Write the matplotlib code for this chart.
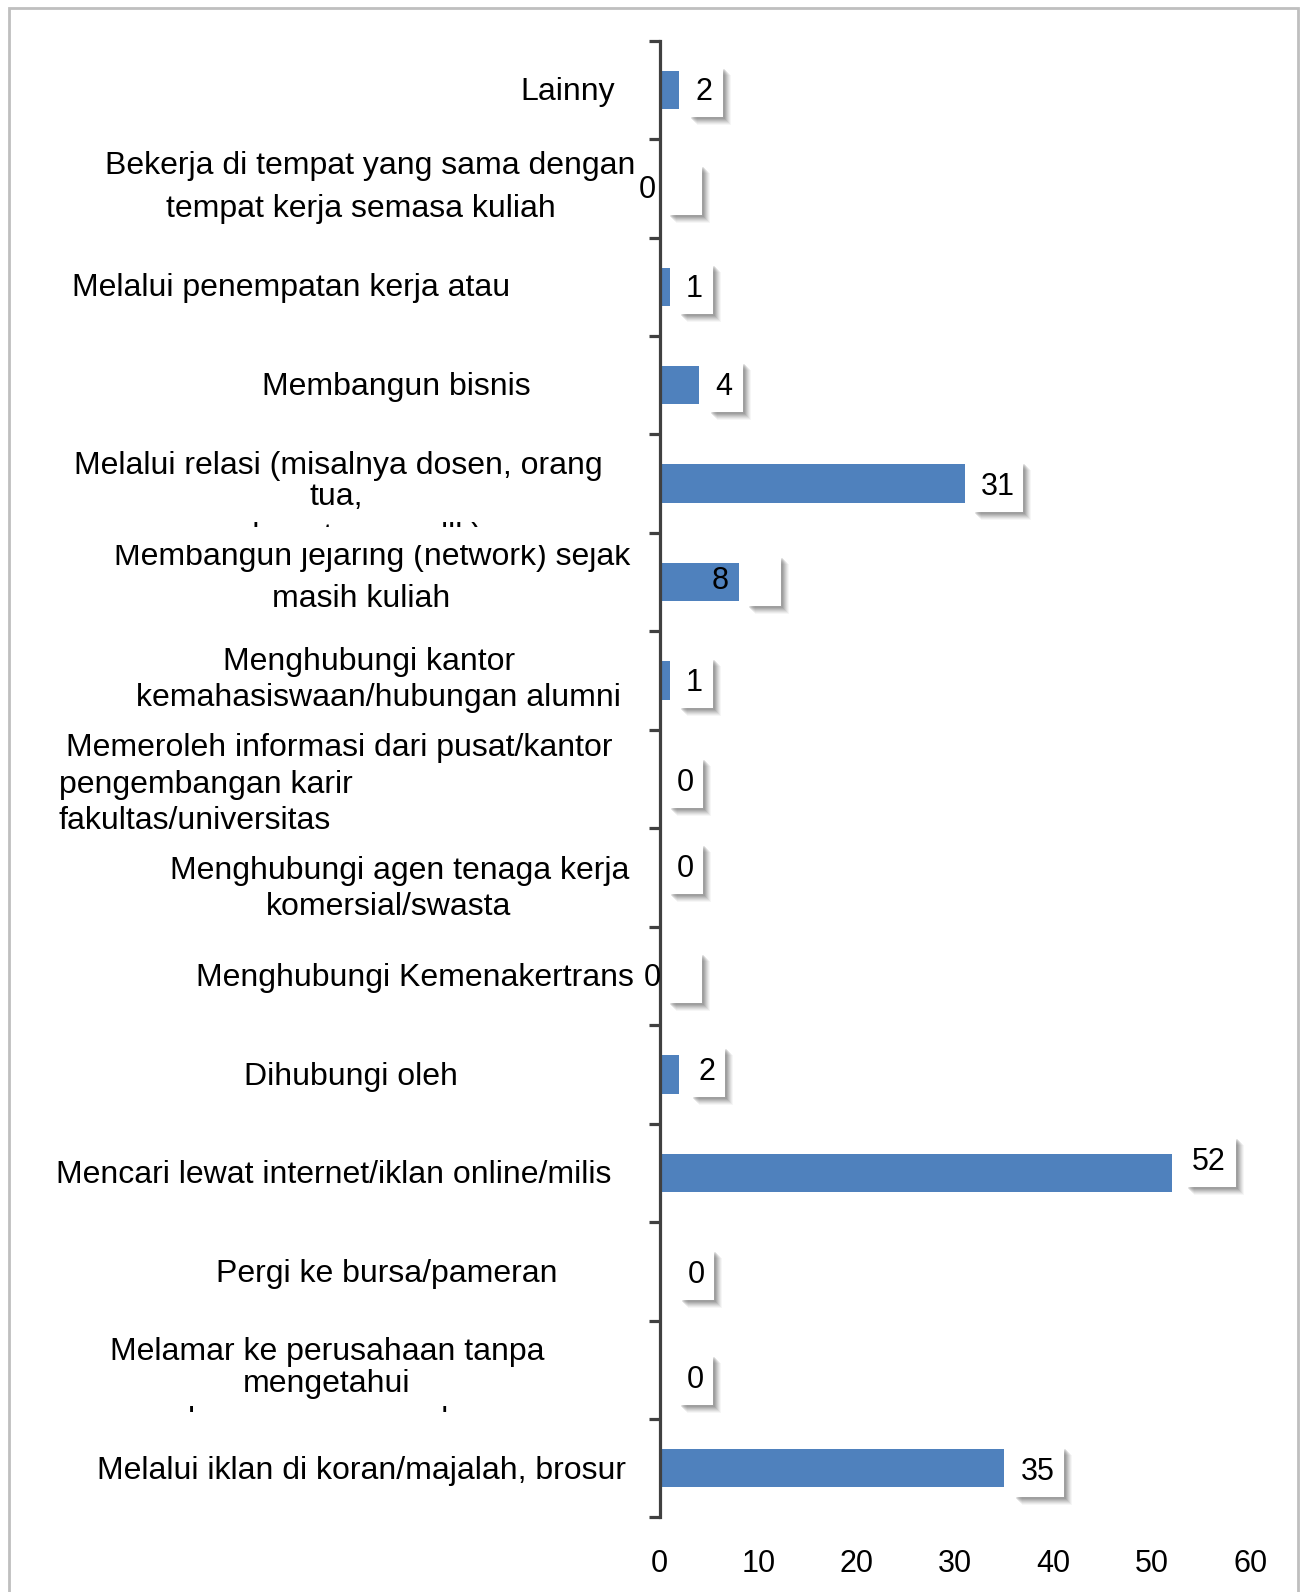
import matplotlib
matplotlib.use("Agg")
import matplotlib.pyplot as plt
from matplotlib.patches import Rectangle

# ---------------- data (top to bottom) ----------------
categories = [
    "Lainny",
    "Bekerja di tempat yang sama dengan tempat kerja semasa kuliah",
    "Melalui penempatan kerja atau",
    "Membangun bisnis",
    "Melalui relasi (misalnya dosen, orang tua, saudara, teman, dll.)",
    "Membangun jejaring (network) sejak masih kuliah",
    "Menghubungi kantor kemahasiswaan/hubungan alumni",
    "Memeroleh informasi dari pusat/kantor pengembangan karir fakultas/universitas",
    "Menghubungi agen tenaga kerja komersial/swasta",
    "Menghubungi Kemenakertrans",
    "Dihubungi oleh",
    "Mencari lewat internet/iklan online/milis",
    "Pergi ke bursa/pameran",
    "Melamar ke perusahaan tanpa mengetahui lowongan yang ada",
    "Melalui iklan di koran/majalah, brosur",
]
values = [2, 0, 1, 4, 31, 8, 1, 0, 0, 0, 2, 52, 0, 0, 35]
xticks = [0, 10, 20, 30, 40, 50, 60]

# ---------------- layout ----------------
W, H, DPI = 1305, 1592, 100
S = 1.015  # scale from estimated coords to real pixels
FS = 23
FSV = 22
BAR_COLOR = "#4F81BD"
AX_COLOR = "#404040"

plt.rcParams["font.family"] = ["Liberation Sans", "DejaVu Sans"]
fig = plt.figure(figsize=(W / DPI, H / DPI), dpi=DPI)

ax_l, ax_r, ax_t, ax_b = 650 * S, 1232 * S, 40 * S, 1495 * S
ax = fig.add_axes([ax_l / W, 1 - ax_b / H, (ax_r - ax_l) / W, (ax_b - ax_t) / H])

n = len(values)
ypos = list(range(n))
ax.barh(ypos, values, height=0.39, color=BAR_COLOR, zorder=2)
ax.set_xlim(0, 60)
ax.set_ylim(n - 0.5, -0.5)

for s in ["top", "right", "bottom"]:
    ax.spines[s].set_visible(False)
ax.spines["left"].set_color(AX_COLOR)
ax.spines["left"].set_linewidth(2.3)
ax.set_yticks([i - 0.5 for i in range(n + 1)])
ax.set_yticklabels([])
ax.tick_params(axis="y", direction="out", length=8, width=2.3, color=AX_COLOR)
ax.set_xticks(xticks)
ax.set_xticklabels([str(t) for t in xticks], fontsize=FSV)
ax.tick_params(axis="x", length=0, pad=23)


def fx(x):
    return x * S / W


def fy(y):
    return 1 - y * S / H


# ---------------- category labels (wrapped as in the original) ----------------
DY = 3
# (text, x, y, ha, va, clip band (y_top, y_bottom) of visible region or None)
label_lines = [
    ("Lainny", 606, 88 + DY, "right", "center", None),
    ("Bekerja di tempat yang sama dengan", 365, 161 + DY, "center", "center", None),
    ("tempat kerja semasa kuliah", 356, 203 + DY, "center", "center", None),
    ("Melalui penempatan kerja atau", 287, 281 + DY, "center", "center", None),
    ("Membangun bisnis", 390, 378 + DY, "center", "center", None),
    ("Melalui relasi (misalnya dosen, orang", 333, 456 + DY, "center", "center", None),
    ("tua,", 331, 487 + DY, "center", "center", None),
    ("saudara, teman, dll.)", 331, 537, "center", "baseline", (0, 519)),
    ("Membangun jejaring (network) sejak", 367, 557, "center", "baseline", (537, 2000)),
    ("masih kuliah", 356, 587 + DY, "center", "center", None),
    ("Menghubungi kantor", 364, 649 + DY, "center", "center", None),
    ("kemahasiswaan/hubungan alumni", 373, 685 + DY, "center", "center", None),
    ("Memeroleh informasi dari pusat/kantor", 334, 734 + DY, "center", "center", None),
    ("pengembangan karir", 58, 770 + DY, "left", "center", None),
    ("fakultas/universitas", 58, 806 + DY, "left", "center", None),
    ("Menghubungi agen tenaga kerja", 394, 855 + DY, "center", "center", None),
    ("komersial/swasta", 383, 891 + DY, "center", "center", None),
    ("Menghubungi Kemenakertrans", 625, 961 + DY, "right", "center", None),
    ("Dihubungi oleh", 346, 1058 + DY, "center", "center", None),
    ("Mencari lewat internet/iklan online/milis", 329, 1155 + DY, "center", "center", None),
    ("Pergi ke bursa/pameran", 381, 1252 + DY, "center", "center", None),
    ("Melamar ke perusahaan tanpa", 322, 1329 + DY, "center", "center", None),
    ("mengetahui", 322, 1361 + DY, "center", "center", None),
    ("lowongan yang ada", 322, 1408, "center", "baseline", (0, 1391)),
    ("Melalui iklan di koran/majalah, brosur", 356, 1446 + DY, "center", "center", None),
]
for txt, cx, cy, ha, va, clip in label_lines:
    t = fig.text(fx(cx), fy(cy), txt, ha=ha, va=va, fontsize=FS, color="black")
    if clip is not None:
        y0, y1 = clip
        r = Rectangle((0, fy(y1)), 1, fy(y0) - fy(y1), transform=fig.transFigure)
        t.set_clip_path(r)

# ---------------- data labels with white shadowed boxes ----------------
lbl_dx = [24, -12, 24, 24, 32, -18, 24, 25, 25, -7, 27, 36, 36, 35, 33]
lbl_dy = [2, 2, 2, 2, 3, -1, 2, 4, -8, 2, -2, -11, 4, 10, 4]
box_dx = [26, 25, 26, 26, 33, 25, 26, 26, 26, 25, 28, 39, 37, 36, 34]

x_per_px = 60 / (ax_r - ax_l)
y_per_px = n / (ax_b - ax_t)
for i, v in enumerate(values):
    bw = 34 if v < 10 else 50
    bh = 50
    bx = v + box_dx[i] * S * x_per_px
    by = i + lbl_dy[i] * S * y_per_px
    x0 = bx - bw / 2 * x_per_px
    y0 = by - bh / 2 * y_per_px
    for k, a in [(8, 0.05), (7, 0.07), (6, 0.09), (5, 0.11), (4, 0.13), (3, 0.15), (2, 0.15)]:
        ax.add_patch(Rectangle((x0 + k * x_per_px, y0 + k * y_per_px),
                               bw * x_per_px, bh * y_per_px, facecolor="#555555",
                               alpha=a, edgecolor="none", zorder=3, clip_on=False))
    ax.add_patch(Rectangle((x0, y0), bw * x_per_px, bh * y_per_px, facecolor="white",
                           edgecolor="none", zorder=4, clip_on=False))
    ax.text(v + lbl_dx[i] * S * x_per_px, by, str(v), ha="center", va="center",
            fontsize=FSV, color="black", zorder=5, clip_on=False)

# ---------------- outer border ----------------
fig.patches.append(Rectangle((fx(8.5), -0.01), fx(1279) - fx(8.5), fy(8) + 0.01,
                             transform=fig.transFigure, fill=False,
                             edgecolor="#BFBFBF", linewidth=2))

fig.savefig("out.png", dpi=DPI)
